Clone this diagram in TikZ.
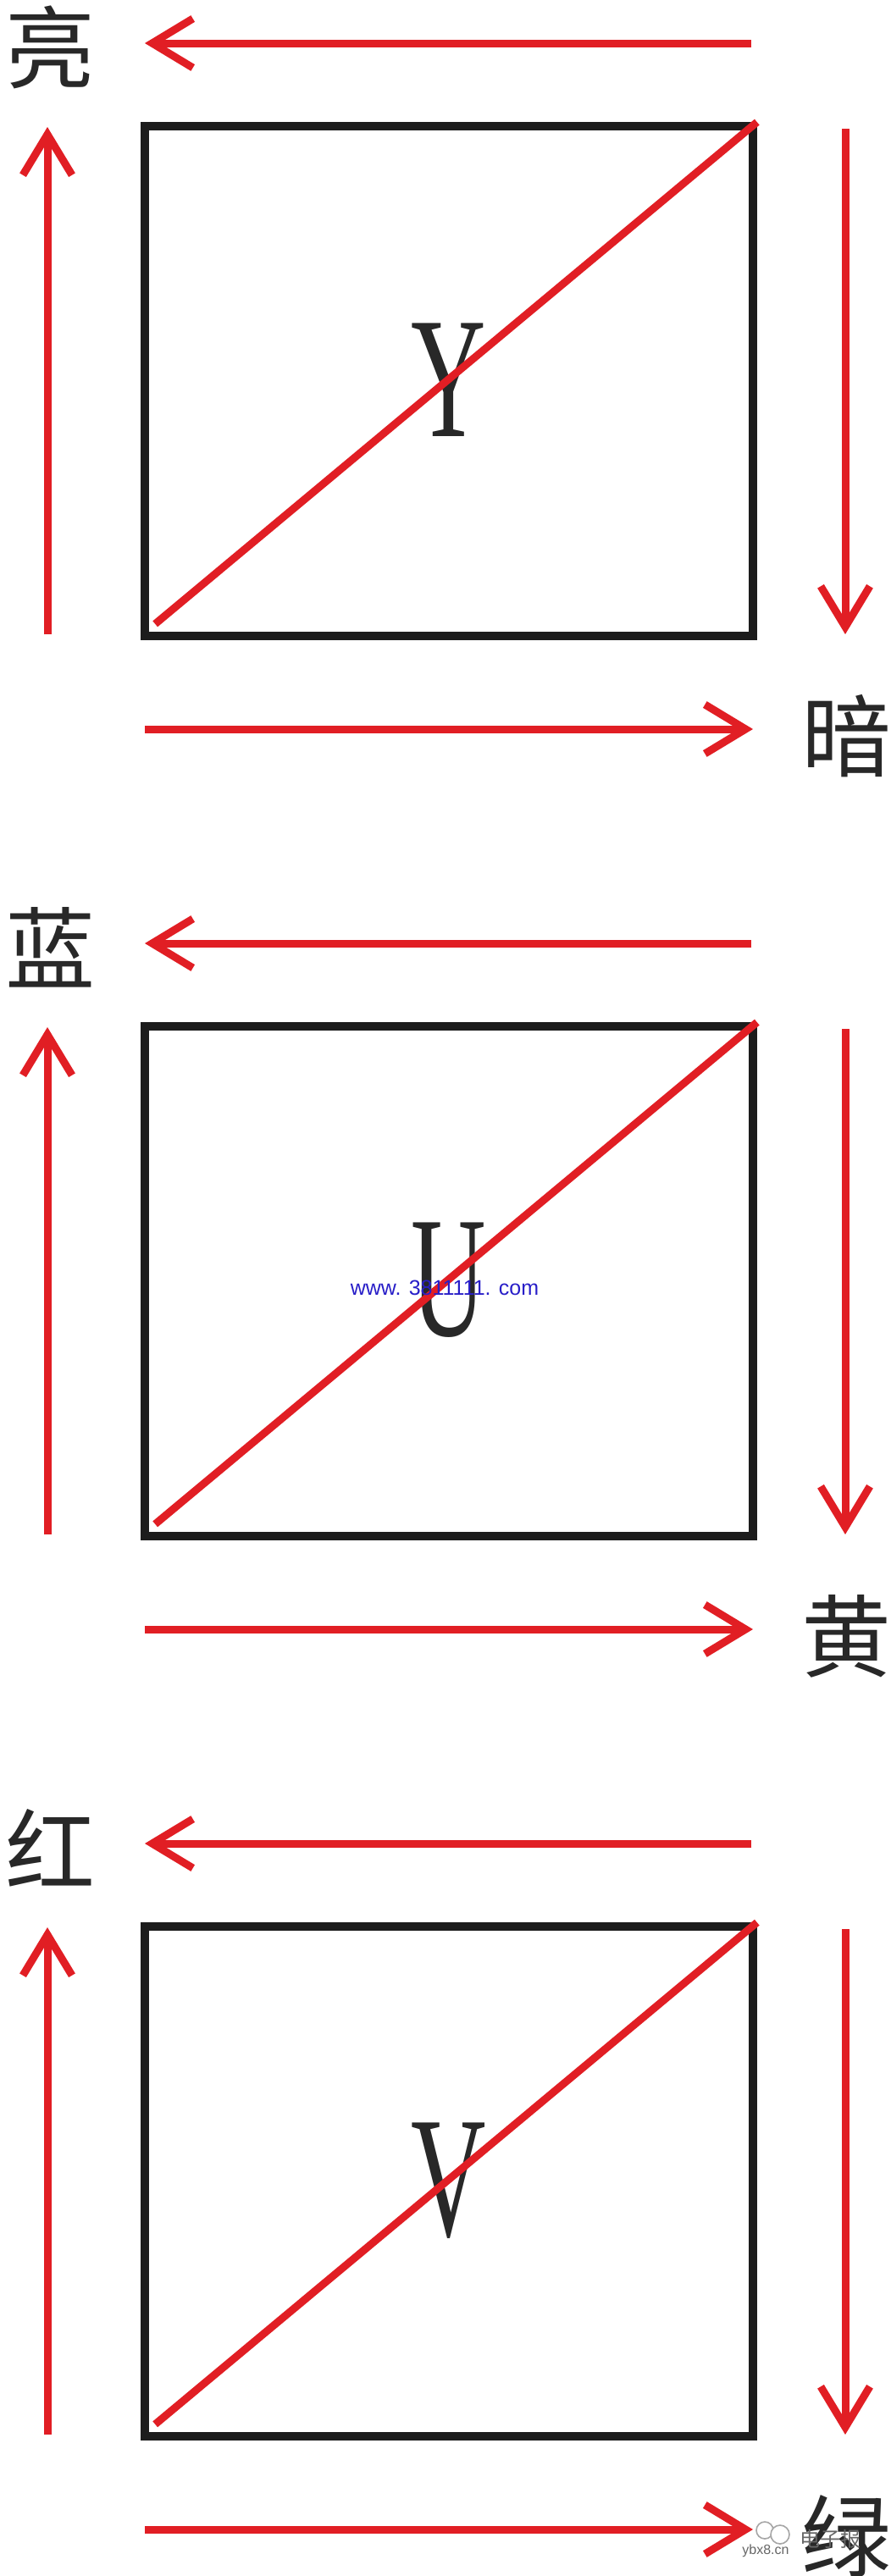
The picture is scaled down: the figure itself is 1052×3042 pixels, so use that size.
\documentclass[tikz,border=0pt]{standalone}
\usepackage{fontspec}
\usepackage{graphicx}
\setmainfont{Liberation Serif}
\newfontfamily\cjk{Noto Sans CJK SC}
\newfontfamily\wmsans{Liberation Sans}
\usetikzlibrary{arrows.meta}
\definecolor{arrred}{RGB}{225,30,36}
\definecolor{boxblack}{RGB}{28,28,28}
\definecolor{txtgray}{RGB}{40,40,40}
\definecolor{wmblue}{RGB}{40,30,200}
\begin{document}
\begin{tikzpicture}[x=0.5pt,y=-0.5pt,
  redarrow/.style={draw=arrred, line width=4.5pt,
    -{Straight Barb[length=24pt,width=29pt]}},
  diagline/.style={draw=arrred, line width=4.5pt},
  panelbox/.style={draw=boxblack, line width=4.8pt, rectangle, inner sep=0pt,
    minimum width=359pt, minimum height=301pt},
  cjklabel/.style={inner sep=0pt, text=txtgray,
    font=\cjk\fontsize{53pt}{53pt}\selectfont},
  letterlabel/.style={inner sep=0pt, text=txtgray,
    font=\fontsize{102pt}{102pt}\selectfont},
  wmtext/.style={inner sep=0pt, text=wmblue,
    font=\wmsans\fontsize{12.5pt}{12.5pt}\selectfont},
  wmsmall/.style={inner sep=0pt, text=gray!80!black},
]
\useasboundingbox (0,0) rectangle (1052,3042);
\fill[white] (0,0) rectangle (1052,3042);

\foreach \k/\lt/\lb/\ch in {0/亮/暗/Y, 1/蓝/黄/U, 2/红/绿/V}{
  \pgfmathsetmacro\o{\k*1063}
  % box and letter
  \node[panelbox] (box\k) at (530,\o+450) {};
  \node[letterlabel] (let\k) at (530,\o+449) {\scalebox{0.6}[1]{\ch}};
  \draw[diagline] ([shift={(17,-19)}]box\k.south west) -- (box\k.north east);
  % arrow end points
  \coordinate (ts\k) at (887,\o+51);
  \coordinate (te\k) at (171,\o+51);
  \coordinate (ls\k) at (56,\o+749);
  \coordinate (le\k) at (56,\o+150);
  \coordinate (rs\k) at (998,\o+152);
  \coordinate (re\k) at (998,\o+749);
  \coordinate (bs\k) at (171,\o+861);
  \coordinate (be\k) at (889,\o+861);
  \draw[redarrow] (ts\k) -- (te\k);
  \draw[redarrow] (ls\k) -- (le\k);
  \draw[redarrow] (rs\k) -- (re\k);
  \draw[redarrow] (bs\k) -- (be\k);
  % labels
  \node[cjklabel] (tl\k) at (59,\o+56) {\lt};
  \node[cjklabel] (bl\k) at (999,\o+869) {\lb};
}

% watermarks
\node[wmtext] (wm) at (525,1521) {www. 3811111. com};
\draw[gray!70, line width=0.8pt] (903,2988) circle[radius=10];
\draw[gray!70, line width=0.8pt, fill=white] (921,2993) circle[radius=11];
\node[wmsmall, font=\cjk\fontsize{12pt}{12pt}\selectfont] (wmcn) at (980,2998) {电子报};
\node[wmsmall, font=\wmsans\fontsize{8pt}{8pt}\selectfont] (wmurl) at (904,3012) {ybx8.cn};
\end{tikzpicture}
\end{document}
